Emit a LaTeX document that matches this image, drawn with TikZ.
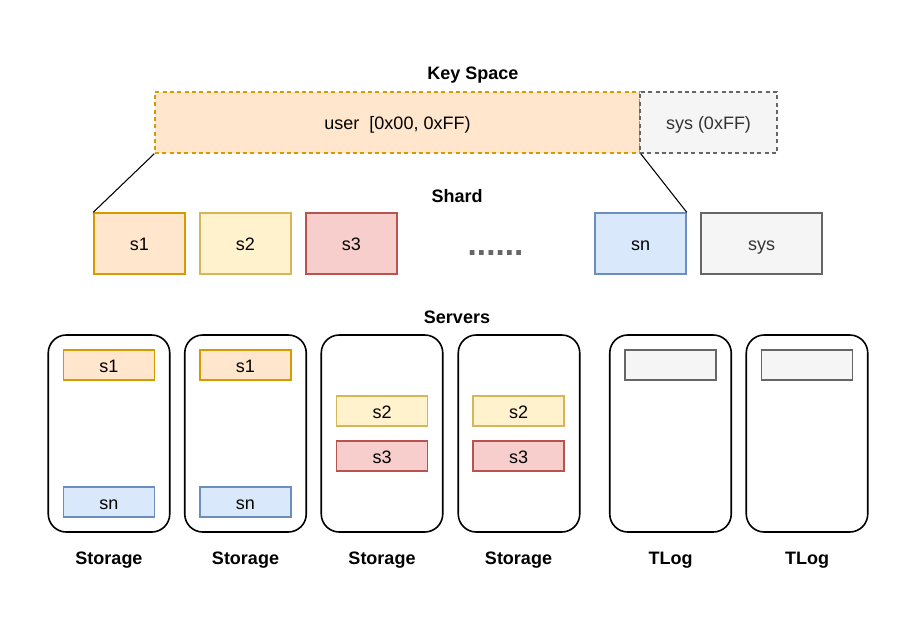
\documentclass[tikz,border=0pt]{standalone}
\usepackage{fontspec}
\setmainfont{Liberation Sans}
\usepackage{tikz}
\definecolor{peachfill}{HTML}{FFE6CC}
\definecolor{peachline}{HTML}{D79B00}
\definecolor{creamfill}{HTML}{FFF2CC}
\definecolor{creamline}{HTML}{D6B656}
\definecolor{rosefill}{HTML}{F8CECC}
\definecolor{roseline}{HTML}{B85450}
\definecolor{skyfill}{HTML}{DAE8FC}
\definecolor{skyline}{HTML}{6C8EBF}
\definecolor{ashfill}{HTML}{F5F5F5}
\definecolor{ashline}{HTML}{666666}
\definecolor{ashtext}{HTML}{333333}
\tikzset{
  every node/.style={font=\fontsize{13.5pt}{16pt}\selectfont},
  title/.style={font=\fontsize{13.5pt}{16pt}\selectfont\bfseries},
  peach/.style={draw=peachline, fill=peachfill},
  cream/.style={draw=creamline, fill=creamfill},
  rose/.style={draw=roseline, fill=rosefill},
  sky/.style={draw=skyline, fill=skyfill},
  ash/.style={draw=ashline, fill=ashfill, text=ashtext},
  keybox/.style={line width=1.1pt, dash pattern=on 3pt off 2.5pt, inner sep=0pt, text height=12pt, text depth=1pt, minimum height=45.75pt},
  shard/.style={line width=1.1pt, inner sep=0pt, text height=12pt, text depth=1pt, minimum width=68.25pt, minimum height=45.75pt},
  slot/.style={line width=1.1pt, inner sep=0pt, text height=12pt, text depth=1pt, minimum width=68.25pt, minimum height=22.5pt},
  server/.style={draw, line width=1.2pt, rounded corners=13.5pt, inner sep=0pt, minimum width=91.125pt, minimum height=147.75pt}
}

\begin{document}
\begin{tikzpicture}[x=0.75pt, y=-0.75pt]
\useasboundingbox (0,0) rectangle (913,639);
\node[title] (keyspace) at (473,75) {Key Space};
\node[keybox, peach, minimum width=363.75pt] (user) at (397.5,122.5) {user\ \ [0x00, 0xFF)};
\node[keybox, ash, minimum width=102.75pt] (syskey) at (708.5,122.5) {sys (0xFF)};
\node[title] (shardtitle) at (457,196) {Shard};
\node[shard, peach] (s1) at (139.5,243.5) {s1};
\node[shard, cream] (s2) at (245.5,243.5) {s2};
\node[shard, rose] (s3) at (351.5,243.5) {s3};
\node[anchor=base, text=ashline, font=\fontsize{25pt}{25pt}\selectfont\bfseries] (dots) at (495.5,255) {......};
\node[shard, sky] (sn) at (640.5,243.5) {sn};
\node[shard, ash, minimum width=90.75pt] (sysshard) at (761.5,243.5) {sys};
\draw[line width=0.8pt] (user.south west) -- (s1.north west);
\draw[line width=0.8pt] (user.south east) -- (sn.north east);
\node[title] (servers) at (457,317) {Servers};
\node[server] (st1) at (109,433.5) {};
\node[server] (st2) at (245.5,433.5) {};
\node[server] (st3) at (382,433.5) {};
\node[server] (st4) at (519,433.5) {};
\node[server] (tl1) at (670.5,433.5) {};
\node[server] (tl2) at (807,433.5) {};
\node[slot, peach] (st1a) at (109,365) {s1};
\node[slot, sky] (st1b) at (109,502) {sn};
\node[slot, peach] (st2a) at (245.5,365) {s1};
\node[slot, sky] (st2b) at (245.5,502) {sn};
\node[slot, cream] (st3a) at (382,411) {s2};
\node[slot, rose] (st3b) at (382,456) {s3};
\node[slot, cream] (st4a) at (518.5,411) {s2};
\node[slot, rose] (st4b) at (518.5,456) {s3};
\node[slot, ash] (tl1a) at (670.5,365) {};
\node[slot, ash] (tl2a) at (807,365) {};
\node[title] (st1l) at (109,560) {Storage};
\node[title] (st2l) at (245.5,560) {Storage};
\node[title] (st3l) at (382,560) {Storage};
\node[title] (st4l) at (518.5,560) {Storage};
\node[title] (tl1l) at (670.5,560) {TLog};
\node[title] (tl2l) at (807,560) {TLog};
\end{tikzpicture}
\end{document}
